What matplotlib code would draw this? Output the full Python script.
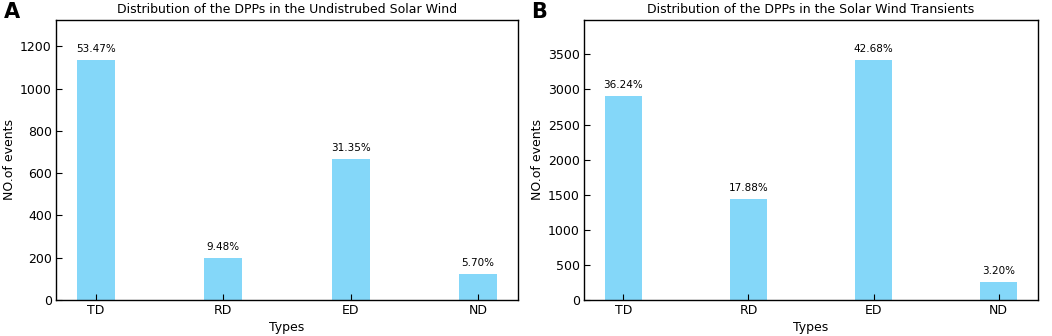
import matplotlib
matplotlib.use("Agg")
import matplotlib.pyplot as plt

types = ["TD", "RD", "ED", "ND"]

# panel A: undisturbed solar wind
counts_a = [1135, 201, 665, 121]
pct_a = ["53.47%", "9.48%", "31.35%", "5.70%"]

# panel B: solar wind transients
counts_b = [2902, 1432, 3418, 256]
pct_b = ["36.24%", "17.88%", "42.68%", "3.20%"]

titles = [
    "Distribution of the DPPs in the Undistrubed Solar Wind",
    "Distribution of the DPPs in the Solar Wind Transients",
]
letters = ["A", "B"]
yticks = [[0, 200, 400, 600, 800, 1000, 1200],
          [0, 500, 1000, 1500, 2000, 2500, 3000, 3500]]

fig = plt.figure(figsize=(10.52, 3.36), dpi=100)
ax_a = fig.add_axes([56 / 1052, 36 / 336, 462 / 1052, 280 / 336])
ax_b = fig.add_axes([584 / 1052, 36 / 336, 454 / 1052, 280 / 336])

for ax, counts, pct, title, letter, yt in zip(
        [ax_a, ax_b], [counts_a, counts_b], [pct_a, pct_b],
        titles, letters, yticks):
    x = range(len(types))
    bars = ax.bar(x, counts, width=0.3, color="#84D7F9")
    for b, p in zip(bars, pct):
        ax.text(b.get_x() + b.get_width() / 2, b.get_height() + max(counts) * 0.025,
                p, ha="center", va="bottom", fontsize=7.5)
    ax.set_xticks(list(x))
    ax.set_xticklabels(types)
    ax.set_yticks(yt)
    ax.set_ylim(0, max(counts) * 1.167)
    ax.tick_params(direction="in", labelsize=9, length=4, pad=3)
    ax.set_xlabel("Types", fontsize=9, labelpad=3)
    ax.set_ylabel("NO.of events", fontsize=9, labelpad=3)
    ax.set_title(title, fontsize=9, pad=5)
    for s in ax.spines.values():
        s.set_linewidth(1.0)

fig.text(4 / 1052, 1 - 12 / 336, "A", fontsize=15, fontweight="bold", va="center")
fig.text(531 / 1052, 1 - 12 / 336, "B", fontsize=15, fontweight="bold", va="center")

fig.savefig("out.png", dpi=100)
